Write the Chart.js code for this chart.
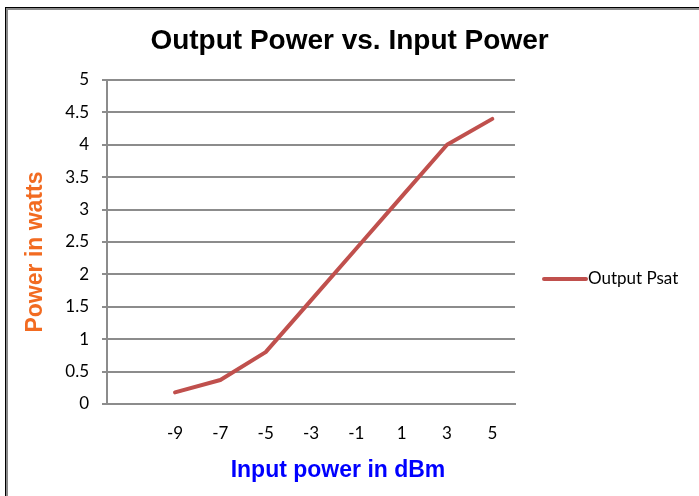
<!DOCTYPE html>
<html>
<head>
<meta charset="utf-8">
<script src="https://cdn.jsdelivr.net/npm/chart.js@4"></script>
<style>
  html, body { margin: 0; padding: 0; background: #fff; }
  #wrap { width: 699px; height: 496px; position: relative; }
</style>
</head>
<body>
<div id="wrap"><canvas id="c" width="699" height="496"></canvas></div>
<script>
const chartTitle = 'Output Power vs. Input Power';
const xAxisTitle = 'Input power in dBm';
const yAxisTitle = 'Power in watts';
const seriesName = 'Output Psat';
const categories = ['', '-9', '-7', '-5', '-3', '-1', '1', '3', '5'];
const outputPsat = [null, 0.18, 0.37, 0.8, 1.6, 2.4, 3.2, 4.0, 4.4];
const yMin = 0, yMax = 5, yStep = 0.5;

const lineColor = '#c0504d';
const gridColor = '#8c8c8c';

const frameTitlesLegend = {
  id: 'frameTitlesLegend',
  beforeDraw(chart) {
    const ctx = chart.ctx;
    ctx.save();
    ctx.fillStyle = '#000';
    ctx.fillRect(5, 7, 1, 496 - 7);
    ctx.fillRect(5, 7, 699 - 5, 1);
    ctx.fillStyle = '#8a8a8a';
    ctx.fillRect(6, 8, 2, 496 - 8);
    ctx.fillRect(6, 8, 699 - 6, 2);
    ctx.restore();
  },
  afterDraw(chart, args, opts) {
    const ctx = chart.ctx;
    ctx.save();
    // axis titles
    ctx.textAlign = 'center';
    ctx.textBaseline = 'middle';
    ctx.font = 'bold 23px "Liberation Sans"';
    ctx.fillStyle = '#0000ff';
    ctx.fillText(xAxisTitle, opts.xTitleX, opts.xTitleY);
    ctx.save();
    ctx.translate(opts.yTitleX, opts.yTitleY);
    ctx.rotate(-Math.PI / 2);
    ctx.fillStyle = '#f26b21';
    ctx.fillText(yAxisTitle, 0, 0);
    ctx.restore();
    // legend
    chart.data.datasets.forEach((ds, i) => {
      const y = opts.legendY + i * 20;
      ctx.strokeStyle = ds.borderColor;
      ctx.lineWidth = 4;
      ctx.lineCap = 'round';
      ctx.beginPath();
      ctx.moveTo(opts.legendX1, y);
      ctx.lineTo(opts.legendX2, y);
      ctx.stroke();
      ctx.fillStyle = '#000';
      ctx.font = '17px Lato';
      ctx.textBaseline = 'middle';
      ctx.textAlign = 'left';
      ctx.fillText(ds.label, opts.legendX2 + 2, y);
    });
    ctx.restore();
  }
};

new Chart(document.getElementById('c'), {
  type: 'line',
  data: {
    labels: categories,
    datasets: [{
      label: seriesName,
      data: outputPsat,
      borderColor: lineColor,
      backgroundColor: lineColor,
      borderWidth: 4,
      pointRadius: 0,
      tension: 0,
      borderCapStyle: 'round',
      borderJoinStyle: 'round',
      spanGaps: false
    }]
  },
  options: {
    responsive: false,
    animation: false,
    layout: { padding: 0 },
    plugins: {
      legend: { display: false },
      tooltip: { enabled: false },
      title: {
        display: true,
        text: chartTitle,
        color: '#000',
        font: { family: 'Liberation Sans', size: 28, weight: 'bold' },
        padding: { top: 24, bottom: 22.4 }
      },
      frameTitlesLegend: {
        legendX1: 544, legendX2: 586, legendY: 279,
        xTitleX: 338, xTitleY: 471,
        yTitleX: 36, yTitleY: 252
      }
    },
    scales: {
      x: {
        type: 'category',
        offset: true,
        grid: { display: false, drawTicks: false },
        border: { display: true, color: gridColor, width: 2 },
        ticks: {
          color: '#000',
          font: { family: 'Lato', size: 17 },
          padding: 19,
          maxRotation: 0,
          autoSkip: false
        },
        afterFit(s) { s.height = 92; }
      },
      y: {
        type: 'linear',
        min: yMin,
        max: yMax,
        grid: { color: gridColor, lineWidth: 2, drawTicks: true, tickLength: 5 },
        border: { display: true, color: gridColor, width: 2 },
        ticks: {
          stepSize: yStep,
          color: '#000',
          font: { family: 'Lato', size: 17 },
          padding: 13,
          callback: (v) => String(Number(v))
        },
        afterFit(s) { s.width = 107; }
      },
      yRight: {
        type: 'linear',
        position: 'right',
        display: true,
        grid: { display: false, drawTicks: false },
        border: { display: false },
        ticks: { display: false },
        afterFit(s) { s.width = 184; }
      }
    }
  },
  plugins: [frameTitlesLegend]
});
</script>
</body>
</html>
